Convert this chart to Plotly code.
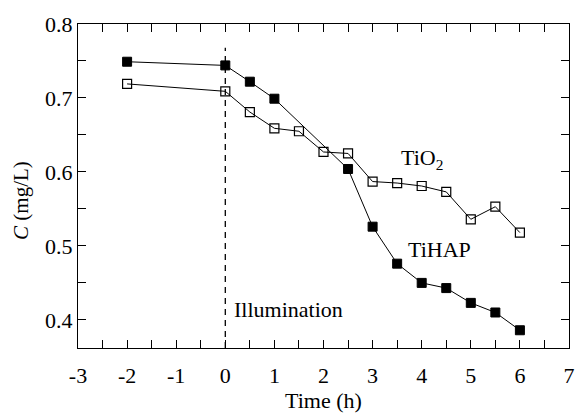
import plotly.graph_objects as go

# ---- data ----
time_tihap = [-2, 0, 0.5, 1, 2.5, 3, 3.5, 4, 4.5, 5, 5.5, 6]
c_tihap = [0.749, 0.744, 0.722, 0.699, 0.604, 0.526, 0.476, 0.450, 0.443, 0.423, 0.410, 0.386]

time_tio2 = [-2, 0, 0.5, 1, 1.5, 2, 2.5, 3, 3.5, 4, 4.5, 5, 5.5, 6]
c_tio2 = [0.719, 0.709, 0.681, 0.659, 0.655, 0.627, 0.625, 0.587, 0.585, 0.581, 0.573, 0.536, 0.553, 0.518]

x_tickvals = [-3, -2, -1, 0, 1, 2, 3, 4, 5, 6, 7]
x_ticktext = ["-3", "-2", "-1", "0", "1", "2", "3", "4", "5", "6", "7"]

illum_x = [0, 0]
illum_y = [0.362, 0.768]

FONT = "Liberation Serif, Times New Roman, serif"
FS = 22

fig = go.Figure()
fig.add_trace(go.Scatter(x=illum_x, y=illum_y, mode="lines",
                         line=dict(color="black", width=1.3, dash="6px,5px"),
                         showlegend=False, hoverinfo="skip"))
fig.add_trace(go.Scatter(x=time_tihap, y=c_tihap, mode="lines+markers", name="TiHAP",
                         line=dict(color="black", width=1),
                         marker=dict(symbol="square", size=9, color="black",
                                     line=dict(color="black", width=1)),
                         showlegend=False))
fig.add_trace(go.Scatter(x=time_tio2, y=c_tio2, mode="lines+markers", name="TiO2",
                         line=dict(color="black", width=1),
                         marker=dict(symbol="square-open", size=9, color="black",
                                     line=dict(color="black", width=1.2)),
                         showlegend=False))

fig.add_annotation(x=4.0, y=0.617, text="TiO<sub>2</sub>", showarrow=False,
                   font=dict(family=FONT, size=FS, color="black"))
fig.add_annotation(x=4.37, y=0.495, text="TiHAP", showarrow=False,
                   font=dict(family=FONT, size=FS, color="black"))
fig.add_annotation(x=0.14, y=0.414, text="Illumination", showarrow=False, xanchor="left",
                   font=dict(family=FONT, size=FS, color="black"))

# y-axis title
fig.add_annotation(xref="paper", yref="paper", x=-0.116, y=0.454, text="<i>C</i> (mg/L)",
                   textangle=-90, showarrow=False, xanchor="center", yanchor="middle",
                   font=dict(family=FONT, size=21, color="black"))

axis_common = dict(showline=True, linecolor="black", linewidth=1, mirror="ticks",
                   ticks="inside", ticklen=8, tickcolor="black", tickwidth=1,
                   showgrid=False, zeroline=False, automargin=False,
                   tickfont=dict(family=FONT, size=FS, color="black"))

fig.update_xaxes(range=[-3, 7], tickmode="array", tickvals=x_tickvals, ticktext=x_ticktext,
                 ticklabelstandoff=8,
                 minor=dict(dtick=0.5, tick0=-3, ticks="inside", ticklen=8, tickcolor="black", showgrid=False),
                 title=dict(text="Time (h)", font=dict(family=FONT, size=FS, color="black"), standoff=1),
                 **axis_common)
fig.update_yaxes(range=[0.362, 0.8], dtick=0.1, tick0=0.4, tickformat=".1f",
                 minor=dict(dtick=0.05, ticks="inside", ticklen=8, tickcolor="black", showgrid=False),
                 **axis_common)

fig.update_layout(width=575, height=419, margin=dict(l=78, r=6, t=24, b=71),
                  plot_bgcolor="white", paper_bgcolor="white")

fig.write_html("out.html")
